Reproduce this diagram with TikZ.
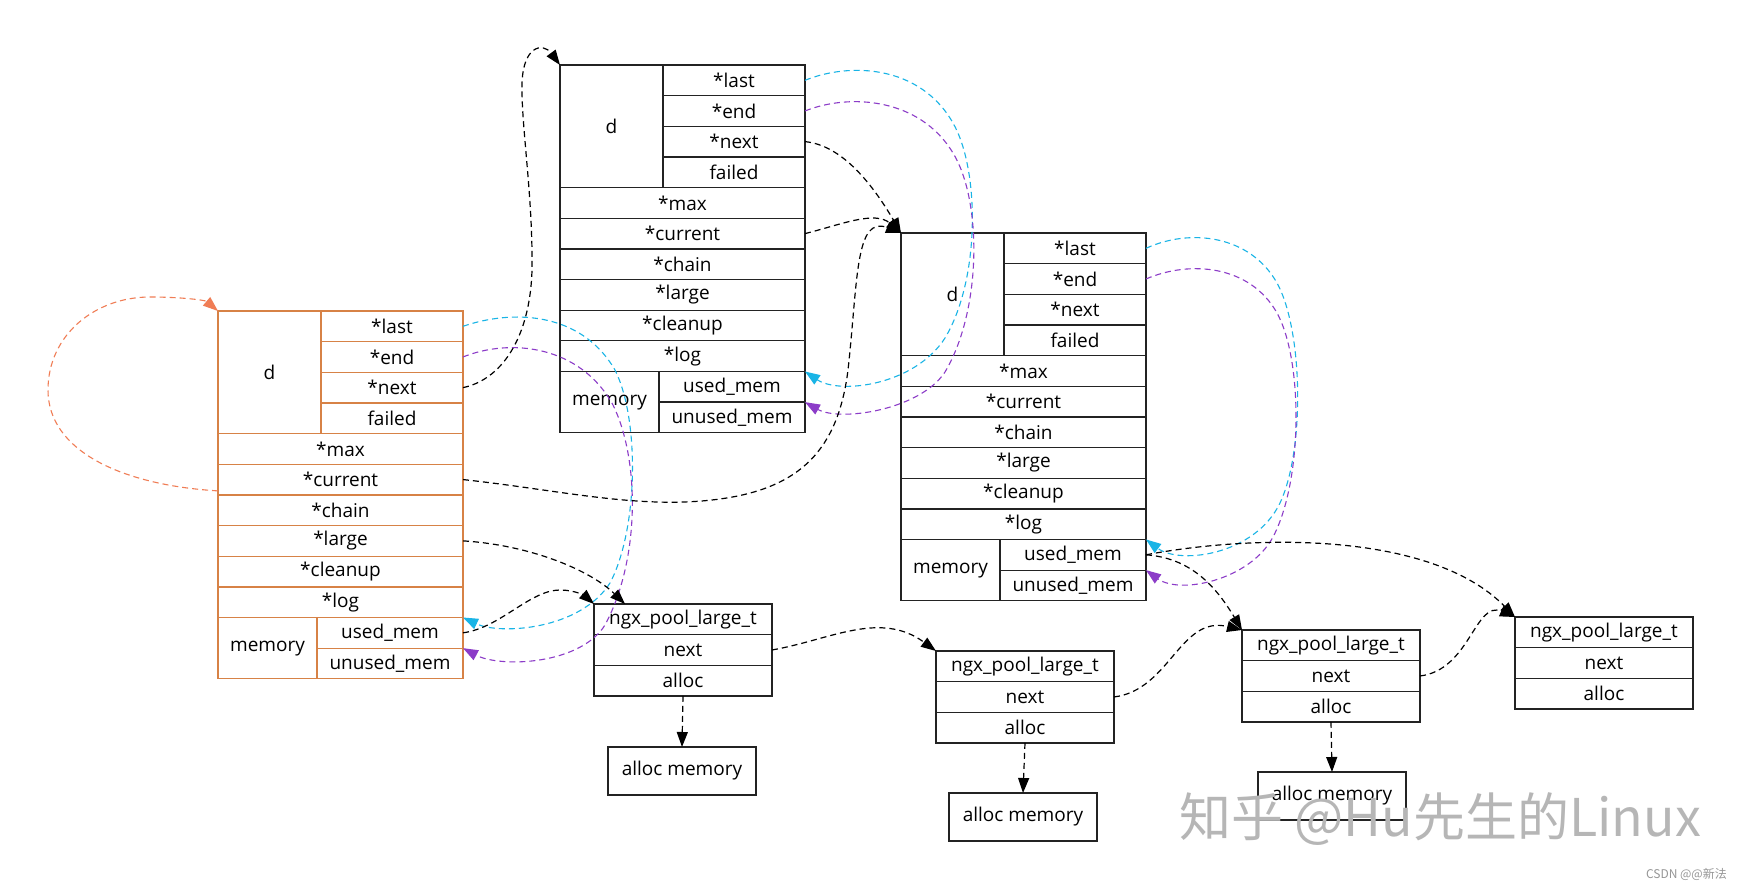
\documentclass[tikz,border=0pt]{standalone}
\usepackage{fontspec}
\setmainfont{Open Sans}
\newfontfamily\cjkfont{Noto Sans CJK SC}
\usetikzlibrary{arrows.meta}
\definecolor{boxline}{RGB}{35,35,35}
\definecolor{orangebox}{RGB}{215,130,70}
\definecolor{coraledge}{RGB}{240,125,85}
\definecolor{cyanedge}{RGB}{25,180,230}
\definecolor{purpleedge}{RGB}{140,60,200}
\definecolor{wmgray}{RGB}{182,182,182}
\definecolor{csdngray}{RGB}{150,150,150}

\tikzset{
  cell/.style={draw=boxline, rectangle, inner sep=0pt, outer sep=0pt,
    minimum height=30.65pt, anchor=north west, line width=1.3pt,
    font=\fontsize{19}{22}\selectfont},
  link/.style={draw=black, line width=1.2pt, dash pattern=on 6pt off 4pt,
    -{Triangle[length=15pt,width=11pt]}},
  colink/.style={link, line width=1.1pt, draw=#1},
}

\newcommand\poolrec[4]{%
  \node[cell,draw=#4,minimum width=103pt,minimum height=122.6pt] (#1d) at (#2,#3) {d};
  \node[cell,draw=#4,minimum width=142pt] (#1last) at (#1d.north east) {*last};
  \node[cell,draw=#4,minimum width=142pt] (#1end) at (#1last.south west) {*end};
  \node[cell,draw=#4,minimum width=142pt] (#1next) at (#1end.south west) {*next};
  \node[cell,draw=#4,minimum width=142pt] (#1failed) at (#1next.south west) {failed};
  \node[cell,draw=#4,minimum width=245pt] (#1max) at (#1d.south west) {*max};
  \node[cell,draw=#4,minimum width=245pt] (#1current) at (#1max.south west) {*current};
  \node[cell,draw=#4,minimum width=245pt] (#1chain) at (#1current.south west) {*chain};
  \node[cell,draw=#4,minimum width=245pt] (#1large) at (#1chain.south west) {*large};
  \node[cell,draw=#4,minimum width=245pt] (#1cleanup) at (#1large.south west) {*cleanup};
  \node[cell,draw=#4,minimum width=245pt] (#1log) at (#1cleanup.south west) {*log};
  \node[cell,draw=#4,minimum width=99pt,minimum height=61.3pt] (#1memory) at (#1log.south west) {memory};
  \node[cell,draw=#4,minimum width=146pt] (#1used) at (#1memory.north east) {used\_mem};
  \node[cell,draw=#4,minimum width=146pt] (#1unused) at (#1used.south west) {unused\_mem};
}

\newcommand\largerec[3]{%
  \node[cell,minimum width=178pt] (#1t) at (#2,#3) {ngx\_pool\_large\_t};
  \node[cell,minimum width=178pt] (#1n) at (#1t.south west) {next};
  \node[cell,minimum width=178pt] (#1a) at (#1n.south west) {alloc};
}

\begin{document}
\begin{tikzpicture}[x=1pt,y=-1pt]
\useasboundingbox[fill=white] (0,0) rectangle (1741,890);

% pools
\poolrec{p1}{218}{311}{orangebox}
\poolrec{p2}{560}{65}{boxline}
\poolrec{p3}{901}{233}{boxline}

% large blocks
\largerec{L1}{594}{604}
\largerec{L2}{936}{651}
\largerec{L3}{1242}{630}
\largerec{L4}{1515}{617}

% alloc memory
\node[cell,minimum width=148pt,minimum height=48pt] (M1) at (608,747) {alloc memory};
\node[cell,minimum width=148pt,minimum height=48pt] (M2) at (949,793) {alloc memory};
\node[cell,minimum width=148pt,minimum height=48pt] (M3) at (1258,772) {alloc memory};

% self loop of pool 1 (current -> itself)
\draw[colink=coraledge] ([yshift=4pt]p1current.south west)
  .. controls (120,485) and (48,450) .. (48,390)
  .. controls (48,335) and (95,297) .. (150,297)
  .. controls (180,297) and (205,300) .. (p1d.north west);

% pool1 next -> pool2
\draw[link] (p1next.east) .. controls (500,380) and (530,340) .. (532,270)
  .. controls (533,200) and (522,130) .. (522,90)
  .. controls (521,45) and (543,42) .. (p2d.north west);

% pool1 last/end loops
\draw[colink=cyanedge] (p1last.east)
  .. controls (510,310) and (580,310) .. (615,370)
  .. controls (640,420) and (638,530) .. (610,583)
  .. controls (580,630) and (500,635) .. (p1used.north east);
\draw[colink=purpleedge] (p1end.east)
  .. controls (510,338) and (580,345) .. (613,405)
  .. controls (640,460) and (640,560) .. (605,625)
  .. controls (580,665) and (500,668) .. (p1unused.north east);

% pool2 last/end loops
\draw[colink=cyanedge] (p2last.east)
  .. controls (850,62) and (920,65) .. (953,123)
  .. controls (980,170) and (980,280) .. (945,338)
  .. controls (915,385) and (840,395) .. (p2used.north east);
\draw[colink=purpleedge] (p2end.east)
  .. controls (850,93) and (920,98) .. (953,153)
  .. controls (982,200) and (982,310) .. (945,372)
  .. controls (920,410) and (840,422) .. (p2unused.north east);

% pool3 last/end loops
\draw[colink=cyanedge] (p3last.east)
  .. controls (1190,228) and (1250,235) .. (1277,283)
  .. controls (1303,330) and (1305,450) .. (1280,503)
  .. controls (1255,555) and (1180,565) .. (p3used.north east);
\draw[colink=purpleedge] (p3end.east)
  .. controls (1190,260) and (1250,265) .. (1277,313)
  .. controls (1303,360) and (1303,480) .. (1273,537)
  .. controls (1250,580) and (1180,595) .. (p3unused.north east);

% pointers to pool3
\draw[link] (p2next.east) .. controls (840,145) and (870,180) .. (p3d.north west);
\draw[link] (p2current.east) .. controls (840,225) and (875,210) .. (p3d.north west);
\draw[link] (p1current.east) .. controls (560,490) and (640,510) .. (720,499)
  .. controls (800,488) and (838,450) .. (848,370)
  .. controls (858,280) and (855,215) .. (p3d.north west);

% large chains
\draw[link] (p1large.east) .. controls (530,545) and (590,570) .. ([xshift=31pt]L1t.north west);
\draw[link] (p1used.east) .. controls (500,628) and (530,590) .. (560,590)
  .. controls (575,590) and (585,596) .. (L1t.north west);
\draw[link] (p3used.east) .. controls (1190,558) and (1215,585) .. (L3t.north west);
\draw[link] (p3used.east) .. controls (1250,535) and (1430,530) .. (L4t.north west);
\draw[link] (L1n.east) .. controls (830,640) and (880,610) .. (L2t.north west);
\draw[link] (L2n.east) .. controls (1170,690) and (1180,615) .. (L3t.north west);
\draw[link] (L3n.east) .. controls (1470,670) and (1475,600) .. (L4t.north west);

% alloc pointers
\draw[link] (L1a.south) -- (M1.north);
\draw[link] (L2a.south) -- (M2.north);
\draw[link] (L3a.south) -- (M3.north);

% watermarks
\node[font=\cjkfont\fontsize{52}{52}\selectfont, text=wmgray, inner sep=0pt] (wm) at (1440,819) {知乎 @Hu先生的Linux};
\node[font=\cjkfont\fontsize{12}{12}\selectfont, text=csdngray, anchor=east, inner sep=0pt] (csdn) at (1727,874) {CSDN @@新法};
\end{tikzpicture}
\end{document}
